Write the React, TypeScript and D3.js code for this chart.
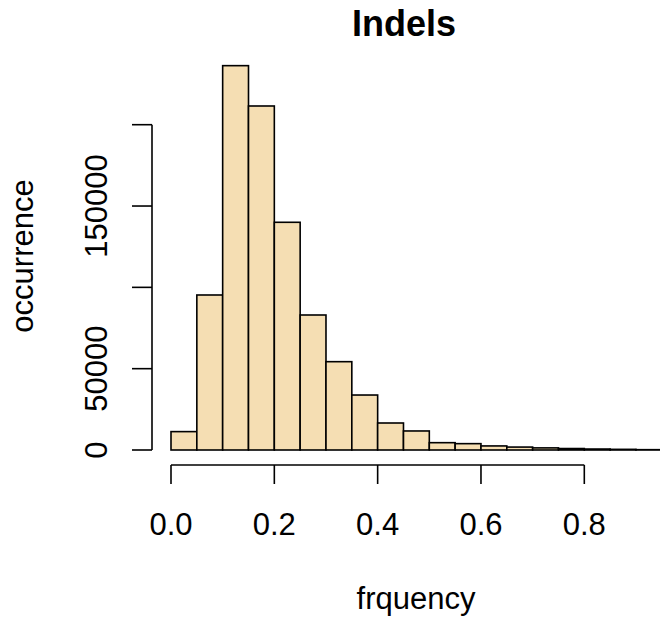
import { useRef, useEffect } from 'react';
import * as d3 from 'd3';

// histogram bins (left edges), width 0.05
const binStarts = [0, 0.05, 0.1, 0.15, 0.2, 0.25, 0.3, 0.35, 0.4, 0.45, 0.5, 0.55, 0.6, 0.65, 0.7, 0.75, 0.8, 0.85, 0.9, 0.95];
const binWidth = 0.05;
const counts = [11300, 95300, 236300, 211500, 140000, 83000, 54300, 33800, 16600, 11700, 4500, 3900, 2500, 1800, 1300, 900, 600, 400, 200, 100];

const xTicks = [0, 0.2, 0.4, 0.6, 0.8];
const xTickLabels = ['0.0', '0.2', '0.4', '0.6', '0.8'];
const yTicks = [0, 50000, 100000, 150000, 200000];
// R drops overlapping labels
const yTickLabels = ['0', '50000', '', '150000', ''];

const FONT = '"Liberation Sans", Arial, Helvetica, sans-serif';

const Histogram = () => {
    const ref = useRef<SVGSVGElement>(null);

    useEffect(() => {
        const svg = d3.select(ref.current);
        svg.selectAll('*').remove();

        const x = d3.scaleLinear().domain([0, 0.8]).range([171, 584.3]);
        const y = d3.scaleLinear().domain([0, 200000]).range([450, 124.7]);

        svg.append('clipPath')
            .attr('id', 'plotclip')
            .append('rect')
            .attr('x', 150).attr('y', 0)
            .attr('width', 510).attr('height', 470);

        svg.append('g')
            .attr('clip-path', 'url(#plotclip)')
            .selectAll('rect')
            .data(binStarts)
            .enter().append('rect')
            .attr('x', (d) => x(d))
            .attr('y', (d, i) => y(counts[i]))
            .attr('width', (d) => x(d + binWidth) - x(d))
            .attr('height', (d, i) => y(0) - y(counts[i]))
            .attr('fill', '#F5DEB3')
            .attr('stroke', '#000')
            .attr('stroke-width', 1.6);

        // y axis
        const yAxisX = 152;
        const ya = svg.append('g');
        ya.append('line')
            .attr('x1', yAxisX).attr('x2', yAxisX)
            .attr('y1', y(200000)).attr('y2', y(0))
            .attr('stroke', '#000').attr('stroke-width', 1.6);
        ya.selectAll('.yt')
            .data(yTicks)
            .enter().append('line')
            .attr('x1', yAxisX - 20).attr('x2', yAxisX)
            .attr('y1', (d) => y(d)).attr('y2', (d) => y(d))
            .attr('stroke', '#000').attr('stroke-width', 1.6);
        ya.selectAll('.ytl')
            .data(yTicks)
            .enter().append('text')
            .attr('transform', (d) => `translate(107,${y(d)}) rotate(-90)`)
            .attr('text-anchor', 'middle')
            .attr('font-family', FONT)
            .attr('font-size', 31)
            .text((d, i) => yTickLabels[i]);

        // x axis
        const xAxisY = 465;
        const xa = svg.append('g');
        xa.append('line')
            .attr('x1', x(0)).attr('x2', x(0.8))
            .attr('y1', xAxisY).attr('y2', xAxisY)
            .attr('stroke', '#000').attr('stroke-width', 1.6);
        xa.selectAll('.xt')
            .data(xTicks)
            .enter().append('line')
            .attr('x1', (d) => x(d)).attr('x2', (d) => x(d))
            .attr('y1', xAxisY).attr('y2', xAxisY + 19)
            .attr('stroke', '#000').attr('stroke-width', 1.6);
        xa.selectAll('.xtl')
            .data(xTicks)
            .enter().append('text')
            .attr('x', (d) => x(d))
            .attr('y', 535)
            .attr('text-anchor', 'middle')
            .attr('font-family', FONT)
            .attr('font-size', 31)
            .text((d, i) => xTickLabels[i]);

        // titles
        svg.append('text')
            .attr('x', 404).attr('y', 36)
            .attr('text-anchor', 'middle')
            .attr('font-family', FONT)
            .attr('font-weight', 'bold')
            .attr('font-size', 36)
            .text('Indels');

        svg.append('text')
            .attr('x', 416).attr('y', 609)
            .attr('text-anchor', 'middle')
            .attr('font-family', FONT)
            .attr('font-size', 31)
            .text('frquency');

        svg.append('text')
            .attr('transform', 'translate(33,256) rotate(-90)')
            .attr('text-anchor', 'middle')
            .attr('font-family', FONT)
            .attr('font-size', 31)
            .text('occurrence');
    }, []);

    return (
        <svg
            ref={ref}
            width={661}
            height={627}
            style={{ position: 'absolute', left: 0, top: 0, background: '#fff' }}
        ></svg>
    );
};

export default function App() {
    return <Histogram />;
}
